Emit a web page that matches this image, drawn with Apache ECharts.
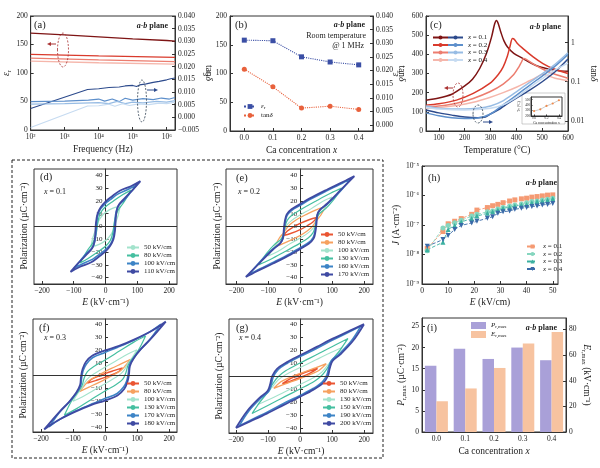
<!DOCTYPE html>
<html>
<head>
<meta charset="utf-8">
<script src="https://cdn.jsdelivr.net/npm/echarts@6/dist/echarts.min.js"></script>
<style>
html,body{margin:0;padding:0;background:#fff}
#main{width:600px;height:468px}
</style>
</head>
<body>
<div id="main"></div>
<script>
const F = '"Liberation Serif","Times New Roman",serif'

// ---------- data ----------
// (a) dielectric constant / loss vs frequency
const aEpsX01 = [[100,170],[1e3,167],[1e4,163.5],[1e5,160],[1e6,157],[1.75e6,156]]
const aEpsX02 = [[100,132.5],[1e4,130],[1.75e6,127.5]]
const aEpsX03 = [[100,126],[1e4,123],[1.75e6,120]]
const aEpsX04 = [[100,121],[1e4,118],[1.75e6,115.5]]
const aTanX01 = [[100,0.0035],[4700,0.011],[1e4,0.0113],[2e4,0.0118],[4e4,0.012],[6e4,0.0124],[1e5,0.0126],[1.3e5,0.0122],[1.6e5,0.0128],[2.5e5,0.0132],[4e5,0.0138],[6e5,0.0142],[1e6,0.0148],[1.3e6,0.0152],[1.75e6,0.0155]]
const aTanX02 = [[100,0.0062],[1e3,0.0064],[5e3,0.0068],[1e4,0.0072],[1.5e4,0.0064],[2.5e4,0.0072],[4e4,0.0062],[6e4,0.0075],[1e5,0.0068],[2e5,0.0074],[4e5,0.007],[7e5,0.0076],[1.2e6,0.0072],[1.75e6,0.0078]]
const aTanX03 = [[100,0.0052],[1e3,0.0054],[1e4,0.0058],[2e4,0.0054],[3.5e4,0.0063],[6e4,0.0054],[1e5,0.006],[2e5,0.0057],[5e5,0.0063],[1e6,0.006],[1.75e6,0.0066]]
const aTanX04 = [[100,-0.004],[4700,0.0045],[1e4,0.0046],[2e4,0.0052],[3e4,0.0044],[5e4,0.0054],[8e4,0.0047],[1.5e5,0.0053],[3e5,0.005],[6e5,0.0056],[1e6,0.0054],[1.75e6,0.006]]

// (b) room temperature @ 1 MHz
const caLabels = ['0.0','0.1','0.2','0.3','0.4']
const bEps = [158,157,129,120,115]
const bTan = [0.0205,0.014,0.0062,0.0069,0.0057]
const bTanTicks = [0,0.005,0.01,0.015,0.02,0.025,0.03,0.035,0.04]

// (c) temperature dependence
const cTempTicks = [100,200,300,400,500,600]
const cEpsX01 = [[50,161],[100,172],[150,192],[200,235],[230,270],[258,326],[284,404],[304,491],[316,560],[323,577],[330,560],[340,515],[352,470],[365,440],[390,405],[426,378],[460,352],[490,335],[530,322],[560,315],[600,312]]
const cEpsX02 = [[50,135],[100,142],[168,161],[233,196],[297,248],[330,295],[349,335],[365,390],[375,440],[385,482],[392,478],[405,455],[426,430],[465,387],[503,352],[542,326],[600,300]]
const cEpsX03 = [[50,125],[100,130],[168,145],[233,170],[297,205],[349,245],[390,295],[410,335],[420,360],[428,378],[440,372],[465,350],[503,322],[542,300],[600,275]]
const cEpsX04 = [[50,118],[100,122],[168,133],[233,150],[297,175],[349,200],[400,228],[440,255],[470,275],[490,290],[503,296],[520,290],[550,275],[600,262]]
const cTanX01 = [[50,0.019],[100,0.016],[150,0.014],[200,0.0125],[250,0.012],[280,0.0125],[300,0.015],[330,0.019],[360,0.026],[400,0.038],[450,0.06],[500,0.1],[550,0.18],[600,0.38]]
const cTanX02 = [[50,0.016],[100,0.0135],[150,0.012],[200,0.0115],[250,0.0118],[300,0.015],[350,0.026],[400,0.045],[450,0.08],[500,0.14],[550,0.25],[600,0.5]]
const cTanX03 = [[50,0.024],[100,0.021],[150,0.02],[200,0.02],[250,0.021],[300,0.024],[350,0.033],[400,0.055],[450,0.095],[500,0.16],[550,0.28],[600,0.55]]
const cTanX04 = [[50,0.022],[100,0.02],[200,0.019],[300,0.021],[350,0.026],[400,0.04],[450,0.07],[500,0.12],[550,0.2],[600,0.3]]
const insetTc = [290,323,385,430,490]

// P-E loops: upper branch read from +Emax to -Emax (lower branch is its point mirror)
const peTicksE = [-200,-100,0,100,200]
const peTicksP = [-40,-30,-20,-10,0,10,20,30,40]
const dLoop50 = [[45,16],[30,15],[12,13],[-5,10],[-18,6],[-26,2],[-32,-3],[-40,-9],[-46,-16]]
const dLoop80 = [[80,28.5],[55,25],[25,20],[0,15.5],[-15,11],[-23,5],[-27,-2],[-32,-8],[-40,-13],[-55,-18],[-80,-28.5]]
const dLoop100 = [[100,33],[75,29.5],[40,25.5],[15,21],[0,18],[-15,14],[-24,9],[-28,2],[-30,-5],[-33,-11],[-40,-16],[-60,-21],[-80,-27],[-100,-33]]
const dLoop110 = [[110,35.5],[80,31.5],[45,28],[20,23.5],[0,19.5],[-15,15],[-25,10],[-30,3],[-32,-5],[-35,-12],[-42,-17],[-60,-22],[-85,-28.5],[-110,-35.5]]

const eLoop50 = [[52,7],[30,5.5],[0,2.5],[-25,-1],[-40,-3.5],[-52,-7]]
const eLoop80 = [[80,16],[50,13],[20,9.5],[0,7],[-22,3.5],[-38,0],[-52,-5],[-65,-9],[-80,-16]]
const eLoop100 = [[100,23],[70,19.5],[35,14],[0,9],[-25,5],[-42,1],[-50,-4],[-58,-9],[-75,-14],[-100,-23]]
const eLoop130 = [[130,30],[95,26],[50,20],[0,13],[-25,9],[-40,5],[-47,0],[-52,-6],[-60,-10],[-80,-14],[-105,-21],[-130,-30]]
const eLoop160 = [[160,37.5],[125,33],[80,27.5],[30,21],[0,16.5],[-27,12.5],[-41,8.5],[-47,3],[-50,-3],[-53,-9],[-62,-13],[-85,-17.5],[-120,-26],[-160,-37.5]]
const eLoop170 = [[170,39.5],[135,35],[85,29],[30,22],[0,17.5],[-27,13.5],[-42,9.5],[-48,4],[-51,-2],[-54,-9],[-62,-13],[-85,-18],[-125,-28],[-170,-39.5]]

const fLoop50 = [[55,6],[30,4],[0,1.5],[-30,-1.5],[-45,-3.5],[-55,-6]]
const fLoop80 = [[80,12.5],[50,9],[20,5.5],[0,3],[-30,-1],[-50,-4],[-65,-8],[-80,-12.5]]
const fLoop100 = [[100,20],[70,16.5],[35,11.5],[0,6.5],[-30,2],[-50,-1.5],[-62,-5],[-70,-9],[-85,-14],[-100,-20]]
const fLoop130 = [[127,31],[90,26],[45,19],[0,12],[-35,7],[-55,3],[-65,-2],[-72,-8],[-85,-13],[-105,-20],[-127,-31]]
const fLoop170 = [[175,40],[140,34],[90,27.5],[40,22],[0,18],[-38,14],[-58,9],[-68,4],[-73,-2],[-76,-8],[-88,-13],[-110,-20],[-140,-28],[-175,-40]]
const fLoop180 = [[190,42],[148,35],[96,28.5],[44,23],[0,19.5],[-39,15.5],[-60,10.5],[-70,5],[-75,-1],[-78,-7.5],[-90,-13.5],[-112,-20.5],[-143,-28.5],[-190,-42]]

const gLoop50 = [[55,6],[30,4],[0,1.2],[-30,-2],[-55,-6]]
const gLoop80 = [[82,9.5],[50,6.5],[0,2],[-40,-2],[-60,-4.5],[-82,-9.5]]
const gLoop130 = [[132,22],[95,18],[50,12.5],[0,6.5],[-45,1],[-68,-3],[-85,-8],[-105,-14],[-132,-22]]
const gLoop150 = [[150,29],[110,24],[60,17.5],[0,10],[-45,4],[-70,-1],[-85,-6],[-100,-12],[-125,-20],[-150,-29]]
const gLoop190 = [[190,38.5],[150,33.5],[100,27.5],[50,21],[0,15],[-42,9.5],[-70,4.5],[-84,-1],[-90,-7],[-98,-12],[-122,-17],[-160,-27],[-190,-38.5]]
const gLoop200 = [[200,40],[156,35],[104,29],[52,22.5],[0,16],[-42,10.5],[-72,5.5],[-87,0],[-93,-6],[-101,-11.5],[-125,-16.5],[-165,-27],[-200,-40]]

// (h) leakage current
const hE = [2,8,10,12.5,15,19,21,25,27,29,31,33.5,35.5,38,40,42,44,46,48,50]
const hJ01 = [1.6e-8,6.0e-8,1.1e-7,1.34e-7,1.65e-7,2.3e-7,3.2e-7,3.9e-7,4.5e-7,5.0e-7,5.7e-7,6.5e-7,7.1e-7,7.7e-7,8.1e-7,8.8e-7,9.2e-7,9.7e-7,1.03e-6,1.05e-6]
const hJ02 = [1.34e-8,7.9e-8,9.7e-8,1.2e-7,1.45e-7,2.0e-7,2.3e-7,2.8e-7,3.0e-7,3.5e-7,3.9e-7,4.4e-7,4.8e-7,5.2e-7,5.7e-7,6.2e-7,6.5e-7,7.1e-7,7.5e-7,8.1e-7]
const hJ03 = [1.45e-8,2.6e-8,7.1e-8,9.7e-8,1.27e-7,1.65e-7,2.0e-7,2.5e-7,2.8e-7,3.2e-7,3.7e-7,4.0e-7,4.4e-7,4.8e-7,5.0e-7,5.7e-7,6.2e-7,6.5e-7,7.1e-7,7.7e-7]
const hJ04 = [1.9e-8,3.2e-8,4.4e-8,7.1e-8,9.7e-8,1.17e-7,1.34e-7,1.7e-7,1.9e-7,2.5e-7,2.8e-7,3.0e-7,3.4e-7,3.7e-7,3.9e-7,4.2e-7,4.4e-7,4.8e-7,5.0e-7,5.4e-7]

// (i) Pr,max and Er,max
const iPr = [15.7,19.7,17.3,20.0,17.0]
const iEr = [24,34,50,69,78]

// ---------- helpers ----------
const SUP = {'-':'⁻','0':'⁰','1':'¹','2':'²','3':'³','4':'⁴','5':'⁵','6':'⁶','7':'⁷','8':'⁸','9':'⁹'}
const pow10 = v => '10' + String(Math.round(Math.log10(v))).split('').map(c => SUP[c]).join('')
const minus = v => (v < 0 ? '−' : '') + Math.abs(v)
const dec3 = v => (v < 0 ? '−' : '') + Math.abs(v).toFixed(3)
const loop = up => up.concat(up.map(p => [-p[0], -p[1]]))

function merge(a, b) {
    for (const k in b) {
        if (b[k] && typeof b[k] === 'object' && !Array.isArray(b[k]) && a[k] && typeof a[k] === 'object') merge(a[k], b[k])
        else a[k] = b[k]
    }
    return a
}
const RICH = {
    n: {fontFamily: F, fontSize: 9.5, color: '#222'},
    i: {fontFamily: F, fontSize: 9.5, fontStyle: 'italic', color: '#222'},
    s: {fontFamily: F, fontSize: 6.5, color: '#222', verticalAlign: 'bottom', padding: [6, 0, 0, 0]}
}
const LRICH = {
    n: {fontFamily: F, fontSize: 7, color: '#222'},
    i: {fontFamily: F, fontSize: 7, fontStyle: 'italic', color: '#222'},
    s: {fontFamily: F, fontSize: 5, color: '#222', verticalAlign: 'bottom', padding: [4, 0, 0, 0]}
}
function ax(o) {
    return merge({
        type: 'value',
        axisLine: {show: true, onZero: false, lineStyle: {color: '#333', width: 1}},
        axisTick: {show: true, inside: true, length: 3, lineStyle: {color: '#333'}},
        axisLabel: {fontFamily: F, fontSize: 7.5, color: '#222', margin: 3},
        splitLine: {show: false},
        nameLocation: 'middle',
        nameTextStyle: {fontFamily: F, fontSize: 9.5, color: '#222', rich: RICH}
    }, o)
}

const grid = [
    {left: 29, top: 16, width: 146, height: 114},   // a
    {left: 230, top: 16, width: 143, height: 115},  // b
    {left: 426, top: 16, width: 142, height: 115},  // c
    {left: 34, top: 169, width: 143, height: 115},  // d
    {left: 226, top: 169, width: 147, height: 115}, // e
    {left: 422, top: 166, width: 136, height: 118}, // h
    {left: 33, top: 319, width: 144, height: 113},  // f
    {left: 229, top: 319, width: 144, height: 114}, // g
    {left: 422, top: 318, width: 144, height: 114}, // i
    {left: 531, top: 97, width: 31, height: 19, z: 5} // inset in c
].map(g => Object.assign({show: true, borderColor: '#333', borderWidth: 1}, g))

const peX = (gi, min, max) => ax({gridIndex: gi, min, max,
    axisLabel: {customValues: peTicksE, formatter: minus}, axisTick: {customValues: peTicksE},
    name: '{i|E} {n|(kV·cm⁻¹)}', nameGap: 13})
// P axis moved in from the left frame onto the E = 0 line
const peY = (gi, min, max, xmin, xmax) => ax({gridIndex: gi, min, max, position: 'left',
    offset: -grid[gi].width * (-xmin) / (xmax - xmin),
    axisLabel: {customValues: peTicksP, formatter: minus, fontSize: 7}, axisTick: {customValues: peTicksP}})

const peRange = {d: [-225, 225], e: [-232, 228], f: [-225, 225], g: [-222, 228]}
const xAxis = [
    ax({gridIndex: 0, type: 'log', min: 100, max: 1.75e6, axisLabel: {formatter: pow10, showMaxLabel: false}, name: 'Frequency (Hz)', nameGap: 14}),
    ax({gridIndex: 1, type: 'category', data: caLabels, axisTick: {alignWithLabel: true}, name: '{n|Ca concentration }{i|x}', nameGap: 14}),
    ax({gridIndex: 2, min: 50, max: 600, axisLabel: {customValues: cTempTicks}, axisTick: {customValues: cTempTicks}, name: 'Temperature (°C)', nameGap: 14}),
    peX(3, ...peRange.d),
    peX(4, ...peRange.e),
    ax({gridIndex: 5, min: 0, max: 52, interval: 10, axisLabel: {showMaxLabel: false}, name: '{i|E} {n|(kV/cm)}', nameGap: 13}),
    peX(6, ...peRange.f),
    peX(7, ...peRange.g),
    ax({gridIndex: 8, type: 'category', data: caLabels, axisTick: {show: false}, name: '{n|Ca concentration }{i|x}', nameGap: 14}),
    ax({gridIndex: 9, type: 'category', data: caLabels, z: 6, axisTick: {alignWithLabel: true, length: 1.5},
        axisLabel: {fontSize: 3.2, margin: 1}, name: 'Ca concentration x', nameGap: 3, nameTextStyle: {fontSize: 3.5}})
]
const yAxis = [
    ax({gridIndex: 0, min: 0, max: 200, interval: 50, name: '{i|ε}{s|r}', nameGap: 11}),
    ax({gridIndex: 0, position: 'right', min: -0.005, max: 0.04, interval: 0.005, axisLabel: {formatter: dec3}, name: '{n|tan}{i|δ}', nameGap: 18, nameRotate: -90}),
    ax({gridIndex: 1, min: 0, max: 200, interval: 50, name: '{i|ε}{s|r}', nameGap: 15}),
    ax({gridIndex: 1, position: 'right', min: -0.0022, max: 0.04, axisLabel: {customValues: bTanTicks, formatter: dec3}, axisTick: {customValues: bTanTicks}, name: '{n|tan}{i|δ}', nameGap: 16, nameRotate: -90}),
    ax({gridIndex: 2, min: 0, max: 600, interval: 100, name: '{i|ε}{s|r}', nameGap: 24}),
    ax({gridIndex: 2, type: 'log', position: 'right', min: 0.0055, max: 4.8,
        axisLabel: {showMinLabel: false, showMaxLabel: false, formatter: v => String(+v.toPrecision(1))}, name: '{n|tan}{i|δ}', nameGap: 14, nameRotate: -90}),
    peY(3, -45, 45, ...peRange.d),
    peY(4, -45, 45, ...peRange.e),
    ax({gridIndex: 5, type: 'log', min: 1e-9, max: 1e-5, axisLabel: {formatter: pow10}, name: '{i|J} {n|(A·cm⁻²)}', nameGap: 12}),
    peY(6, -44, 44, ...peRange.f),
    peY(7, -44, 44, ...peRange.g),
    ax({gridIndex: 8, min: 0, max: 27, interval: 5, axisLabel: {showMaxLabel: false}, name: '{i|P}{s|r,max}{n| (µC·cm⁻²)}', nameGap: 8}),
    ax({gridIndex: 8, position: 'right', min: 0, max: 89, interval: 20, axisLabel: {showMaxLabel: false}, name: '{i|E}{s|r,max}{n| (kV·cm⁻¹)}', nameGap: 10, nameRotate: -90}),
    ax({gridIndex: 9, min: 200, max: 550, interval: 100, z: 6, axisTick: {length: 1.5}, axisLabel: {fontSize: 3.2, margin: 1, showMaxLabel: false},
        name: 'Tc (°C)', nameGap: 3, nameTextStyle: {fontSize: 3.5}})
]

// ---------- series ----------
const series = []
function line(name, data, xi, yi, color, width, extra) {
    series.push(merge({name, type: 'line', data, xAxisIndex: xi, yAxisIndex: yi, symbol: 'none',
        lineStyle: {color, width}, itemStyle: {color}, animation: false}, extra || {}))
}
const RED = ['#7e1414', '#d93a2c', '#ec7d6f', '#f5b6ab']
const BLUE = ['#2c4a8c', '#5d8fcb', '#97bce4', '#c6dbf1']

// a
;[aEpsX01, aEpsX02, aEpsX03, aEpsX04].forEach((d, k) => line('a|eps' + k, d, 0, 0, RED[k], 1.3))
;[aTanX01, aTanX02, aTanX03, aTanX04].forEach((d, k) => line('a|tan' + k, d, 0, 1, BLUE[k], 1.1))
// b
line('b|eps', bEps, 1, 2, '#3b4fa5', 1.1, {symbol: 'rect', symbolSize: 5, lineStyle: {type: 'dotted'}})
line('b|tan', bTan, 1, 3, '#e8613c', 1.1, {symbol: 'circle', symbolSize: 5, lineStyle: {type: 'dotted'}})
// c
const cx = ['0.1', '0.2', '0.3', '0.4']
;[cEpsX01, cEpsX02, cEpsX03, cEpsX04].forEach((d, k) => line('c|eps|' + cx[k], d, 2, 4, RED[k], 1.5, {smooth: 0.3}))
;[cTanX01, cTanX02, cTanX03, cTanX04].forEach((d, k) => line('c|tan|' + cx[k], d, 2, 5, BLUE[k], 1.5, {smooth: 0.3}))
line('inset', insetTc, 9, 13, '#f08a4b', 0.5, {symbol: 'circle', symbolSize: 2.2, z: 6, lineStyle: {color: '#999'}})

// P-E
const C = {red: '#ea5532', orange: '#f6a15f', mint: '#a3e3cc', teal: '#45bfa0', blue: '#3d84c6', indigo: '#3f4aa3'}
const zeroLine = {silent: true, symbol: 'none', label: {show: false}, animation: false, lineStyle: {color: '#333', width: 1, type: 'solid'}, data: [{yAxis: 0}]}
function pe(panel, xi, yi, loops) {
    loops.forEach((l, k) => line(panel + '|' + l[0] + ' kV/cm', loop(l[1]), xi, yi, l[2], l[3],
        Object.assign({smooth: 0.35}, k === 0 ? {markLine: zeroLine} : {})))
}
pe('d', 3, 6, [[50, dLoop50, C.mint, 1.3], [80, dLoop80, C.teal, 1.3], [100, dLoop100, C.blue, 1.6], [110, dLoop110, C.indigo, 1.8]])
pe('e', 4, 7, [[50, eLoop50, C.red, 1.4], [80, eLoop80, C.orange, 1.3], [100, eLoop100, C.mint, 1.1], [130, eLoop130, C.teal, 1.2], [160, eLoop160, C.blue, 1.6], [170, eLoop170, C.indigo, 1.8]])
pe('f', 6, 9, [[50, fLoop50, C.red, 1.4], [80, fLoop80, C.orange, 1.3], [100, fLoop100, C.mint, 1.1], [130, fLoop130, C.teal, 1.2], [170, fLoop170, C.blue, 1.6], [180, fLoop180, C.indigo, 1.8]])
pe('g', 7, 10, [[50, gLoop50, C.red, 1.6], [80, gLoop80, C.orange, 1.3], [130, gLoop130, C.mint, 1.1], [150, gLoop150, C.teal, 1.2], [190, gLoop190, C.blue, 1.6], [200, gLoop200, C.indigo, 1.8]])

// h
const hSet = [[hJ01, '#f59a73', 'rect', 0], [hJ02, '#86d6bf', 'circle', 0], [hJ03, '#3bb0a0', 'triangle', 0], [hJ04, '#3a6aa8', 'triangle', 180]]
hSet.forEach((s, k) => line('h|' + cx[k], hE.map((e, j) => [e, s[0][j]]), 5, 8, s[1], 0.9,
    {symbol: s[2], symbolRotate: s[3], symbolSize: 5, lineStyle: {type: 'dashed'}}))

// i
series.push({name: 'i|P', type: 'bar', data: iPr, xAxisIndex: 8, yAxisIndex: 11, barWidth: 11.5, barGap: '0%', itemStyle: {color: '#a9a0d8'}, animation: false})
series.push({name: 'i|E', type: 'bar', data: iEr, xAxisIndex: 8, yAxisIndex: 12, barWidth: 11.5, barGap: '0%', itemStyle: {color: '#f7c3a0'}, animation: false})

// ---------- legends ----------
function leg(o) {
    return merge({orient: 'vertical', padding: 0, itemWidth: 12, itemHeight: 6, itemGap: 1, selectedMode: false,
        textStyle: {fontFamily: F, fontSize: 7, color: '#222', lineHeight: 7, rich: LRICH},
        formatter: n => n.split('|').pop()}, o)
}
const peNames = (p, list) => list.map(v => p + '|' + v + ' kV/cm')
const legend = [
    leg({left: 243, top: 103, itemGap: 2, data: ['b|eps', 'b|tan'], formatter: n => n === 'b|eps' ? '{i|ε}{s|r}' : '{n|tan}{i|δ}'}),
    leg({left: 432, top: 34, itemWidth: 15, itemHeight: 5, itemGap: 0.5, data: cx.map(v => 'c|eps|' + v), formatter: () => ' '}),
    leg({left: 447, top: 34, itemWidth: 15, itemHeight: 5, itemGap: 0.5, data: cx.map(v => 'c|tan|' + v), formatter: n => '{i|x}{n| = ' + n.split('|')[2] + '}'}),
    leg({left: 126, top: 244, data: peNames('d', [50, 80, 100, 110])}),
    leg({left: 320, top: 231, data: peNames('e', [50, 80, 100, 130, 160, 170])}),
    leg({left: 126, top: 380, data: peNames('f', [50, 80, 100, 130, 170, 180])}),
    leg({left: 322, top: 380, data: peNames('g', [50, 80, 130, 150, 190, 200])}),
    leg({left: 526, top: 243, itemWidth: 11, itemHeight: 5, itemGap: 0.5, data: cx.map(v => 'h|' + v), formatter: n => '{i|x}{n| = ' + n.split('|')[1] + '}'}),
    leg({left: 471, top: 322, itemWidth: 15, itemHeight: 7, itemGap: 2, icon: 'rect', data: ['i|P', 'i|E'], formatter: n => n === 'i|P' ? '{i|P}{s|r,max}' : '{i|E}{s|r,max}'})
]

// ---------- annotations ----------
const TRICH = {
    n: {fontFamily: F, fontSize: 8, fill: '#222'},
    i: {fontFamily: F, fontSize: 8, fontStyle: 'italic', fill: '#222'},
    ab: {fontFamily: F, fontSize: 8, fontStyle: 'italic', fontWeight: 'bold', fill: '#222'},
    b: {fontFamily: F, fontSize: 8, fontWeight: 'bold', fill: '#222'}
}
const txt = (x, y, text, align, size) => ({type: 'text', z: 10, style: {x, y, text, align: align || 'left', verticalAlign: 'middle', rich: TRICH,
    font: (size || 10.5) + 'px ' + F, fill: '#222'}})
// rotated axis title for the P-E panels
const polName = (x, y) => ({type: 'text', z: 10, x, y, rotation: Math.PI / 2,
    style: {text: 'Polarization (µC·cm⁻²)', align: 'center', verticalAlign: 'middle', font: '9.5px ' + F, fill: '#222'}})
const ell = (cx, cy, rx, ry, c) => ({type: 'ellipse', z: 10, shape: {cx, cy, rx, ry}, style: {fill: 'none', stroke: c, lineWidth: 0.8, lineDash: [2, 1.5]}})
const arrow = (x1, x2, y, c) => ({type: 'group', z: 10, children: [
    {type: 'line', shape: {x1, y1: y, x2: x2 - Math.sign(x2 - x1) * 3, y2: y}, style: {stroke: c, lineWidth: 1}},
    {type: 'polygon', shape: {points: [[x2, y], [x2 - Math.sign(x2 - x1) * 4, y - 2], [x2 - Math.sign(x2 - x1) * 4, y + 2]]}, style: {fill: c}}]})

const graphic = [
    {type: 'rect', z: 10, shape: {x: 12, y: 160, width: 371, height: 298}, style: {fill: 'none', stroke: '#222', lineWidth: 1, lineDash: [3, 2]}},
    {type: 'rect', z: 3, shape: {x: 522, y: 93, width: 43, height: 31}, style: {fill: '#fff', stroke: '#999', lineWidth: 0.5}},
    polName(24, 226), polName(217, 226), polName(23, 375), polName(219, 376),
    txt(34, 25, '(a)'), txt(235, 25, '(b)'), txt(430, 25, '(c)'), txt(40, 177, '(d)'), txt(236, 178, '(e)'),
    txt(428, 178, '(h)'), txt(39, 328, '(f)'), txt(236, 328, '(g)'), txt(427, 328, '(i)'),
    txt(168, 26, '{ab|a-b}{b| plane}', 'right'),
    txt(365, 25, '{ab|a-b}{b| plane}', 'right'),
    txt(366, 36, '{n|Room temperature}', 'right'),
    txt(364, 46, '{n|@ 1 MHz}', 'right'),
    txt(561, 27, '{ab|a-b}{b| plane}', 'right'),
    txt(557, 183, '{ab|a-b}{b| plane}', 'right'),
    txt(557, 328, '{ab|a-b}{b| plane}', 'right'),
    txt(44, 192, '{i|x}{n| = 0.1}'), txt(238, 192, '{i|x}{n| = 0.2}'),
    txt(44, 338, '{i|x}{n| = 0.3}'), txt(239, 338, '{i|x}{n| = 0.4}'),
    ell(63, 50, 5.5, 17, '#a33'), arrow(56, 47, 44, '#a33'),
    ell(142, 101, 4.5, 21, '#345'), arrow(147, 158, 90, '#2c4a8c'),
    ell(458, 95, 5, 12, '#a33'), arrow(453, 444, 88, '#a33'),
    ell(478, 114, 5, 9, '#345'), arrow(483, 493, 122, '#2c4a8c')
]

const myChart = echarts.init(document.getElementById('main'), null, {renderer: 'canvas'})
myChart.setOption({backgroundColor: '#fff', animation: false, grid, xAxis, yAxis, series, legend, graphic})
window.addEventListener('resize', () => myChart.resize())
</script>
</body>
</html>
